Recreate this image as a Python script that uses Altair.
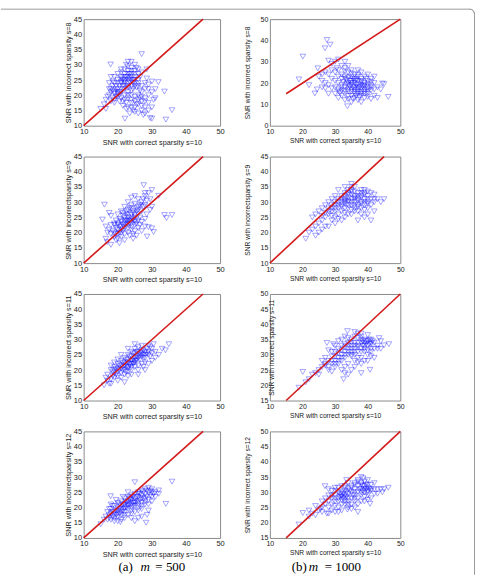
import altair as alt
import pandas as pd

# ---------------- data ----------------
X_TICKS = [10, 20, 30, 40, 50]
Y_TICKS_A = [10, 15, 20, 25, 30, 35, 40, 45]
Y_TICKS_R1 = [0, 10, 20, 30, 40, 50]
Y_TICKS_R34 = [15, 20, 25, 30, 35, 40, 45, 50]

X_TITLE = "SNR with correct sparsity s=10"

# (a) m = 500, s = 8
L1_POINTS = [
    (21,24),(22,25),(23,26),(24,27),(22,27),(23,28),(24,25),(25,26),(21,26),(22,23),
    (23,24),(24,23),(25,24),(26,25),(25,28),(24,29),(23,29.5),(22,28.5),(21,27.5),(20,25),
    (20.5,23),(21.5,22),(23,22.5),(24.5,22),(25.5,22.5),(26,27),(26.5,26),(27,27.5),(25,30),(24,31),
    (27,33.5),(28.5,28.5),(26,23),(22.5,30),(23.5,27),(21,24.5),
    (17.5,20),(18,21),(18.5,19),(19,20.5),(19.5,22),(18,22),(19,18.5),(20,19.5),(20,21),(20.5,20),
    (21,19),(19.5,19.5),(18.5,23),(17,19.5),(17.5,22),(16.5,18.5),(16,17),(15,15.5),(16.5,15.5),(17.9,30.1),
    (18,26),(19,24),(20,27),(18.5,24.5),(19,17.5),(20.5,18),
    (22,20),(23,19),(24,20),(25,19.5),(26,20),(27,21),(28,22),(29,20),(27,18),(26,17),
    (25,16),(28,16),(29,15),(27,15),(26,14),(28,14),(27.5,13.5),(30,16),(29,17.5),(31,19),
    (30,21),(29,22),(28,19),(26,18.5),(24,17.5),(23,16),(25,14.5),(29.5,12.5),(22.1,12.3),(22.5,15.5),
    (24.5,15),(30,12.3),(34.1,12),(35.9,15.1),(33.7,21.2),(31.9,24.3),(30,24.5),(28,24),(27,23),(23,21),
    (21.5,18),(22.5,17.5),(26.5,21.5),(24,18.5),(28.5,25.5),(30.5,18.5),(31,22),(27,19.5),(25.5,17),(23.5,14),
    (29,23.5),(22,24),(23,25),(24,26),(22.5,26),(21.5,25),(20,22),(21,21),(22,22),(23.5,24.5),
    (24.5,24),(25,25),(23,23),(19,21),(20,20.5),(18.5,21.5),
    (21,25.5),(22,26),(23,27),(24,28),(25,27),(22,24.5),(23.5,25.5),(24.5,25),(20.5,21),(21.5,23),
    (19.5,23),(24,21.5),(25,23),(26,24),(23,20),(22,18.5),(25,18),(26.5,19),(28,18),(24,16),
    (27,16.5),(20,24),(21,28.5),(26,28.5),(23,31),(25.5,29),(19,26),(17.5,24),(18,18),(21.5,16.5),
]

# (a) m = 500, s = 9
L2_POINTS = [
    (20,21),(21,22),(22,23),(23,24),(24,25),(21,23.5),(22,25),(23,26),(22,21.5),(23,22.5),
    (24,23),(25,24),(20,23),(21,20),(19,20),(19.5,21.5),(20.5,24.5),(22.5,27),(23.5,28),(24.5,27),
    (25,26),(24,21),(25,22.5),(26,24),(26,26),(25.5,28),(26.5,29),(27,30),(27.5,31),(28,32),
    (26,31),(25,29.5),(24,29),(27,27),(28,29),(28.5,30.5),(29,33),(28,33),(27.6,35.6),(30,34),
    (32,32.1),(29.5,31),(26.5,25),(27,23.5),(23,20),(22,19.5),(21,18.5),(20,18),(19,18.5),(18,19.5),
    (18.5,20.5),(17.5,21),(18,22.5),(19,23),(20,26),(21,27),(22,28.5),(23,30),(24,31.5),(25,32),
    (21.5,25.5),(23.5,23),(22.5,24),(24.5,26.5),(20.5,22),(19.5,24),(18,25.5),(17.5,26.5),(16.1,29.2),(15.5,24.3),
    (16.5,22),(17,20),(16.5,18),(16.9,16.9),(18,16),(19.5,17.5),(20.5,16.5),(21.5,20.5),(22,17.5),(23.5,19),
    (24.5,19.5),(25,20.5),(26,21.5),(28.6,18.7),(30,21.4),(30.5,20.2),(29,21.8),(28,22),(27,20.5),(33.7,25.8),
    (35.9,25.8),(34.3,24.8),(28.5,26),(29.5,27.5),(27.5,28.5),(26,27.5),(24,28),(23,27.5),(25.5,23),(24,24),
    (22,22),(21,21),(23,25),(26.5,22.5),(28,24.5),(30,28.5),(20,19.5),(19,22.5),(24.5,18),(25.5,19),
    (21.5,22.5),(22.5,23),(23.5,24),(24.5,24.5),(22,24),(23,23.5),(21,24),(20,22.5),(24,26),(25,25),
    (26,28.5),(27,29),(25.5,27),(22.5,26),(21.5,26.5),(20.5,20),(19.5,19.5),(23,21.5),(24,22),(25,23.5),
]

# (a) m = 500, s = 11
L3_POINTS = [
    (16,15),(17,16.5),(17.5,15.5),(18,17),(18.5,18),(19,17.5),(19,19),(19.5,18.5),(20,18),(20,19.5),
    (20.5,20),(21,19),(21,20.5),(21.5,21),(22,20),(22,21.5),(22.5,22),(23,21),(23,22.5),(23.5,21.5),
    (24,22),(24,23),(24.5,23.5),(25,22.5),(25,24),(25.5,23),(26,24),(26,25),(26.5,23.5),(27,24.5),
    (27,25.5),(27.5,25),(28,24),(28,26),(28.5,25.5),(29,26),(29.5,24.5),(30,25.5),(30,27),(31,26),
    (20,22),(21,23),(22,24),(23,25),(24,26),(25,27),(26,27.5),(19,21),(18,20),(17,18.5),
    (22,18.5),(23,19.5),(24,20),(25,21),(26,21.5),(27,22),(28,22.5),(24,18.5),(26,20),(27.5,21),
    (21.5,22.5),(22.5,23.5),(23.5,24.5),(24.5,25.5),(25.5,26),(20.5,21.5),(19.5,20.5),(18.5,19.5),(21,17.5),(23,18),
    (29,28),(27,28),(25,28.5),(33,27),(35,28.5),(34,26.5),(31,24),(30,23),(29,22),(32,25),
    (28,20),(26,18.5),(22,16),(20,16.5),(18,15.5),(16.5,17.5),(19,22.5),(18,21.5),(24,21),(25.5,24.5),
    (26.5,25.5),(27.5,26.5),(28.5,27),(29.5,27.5),(23,27),(21,25),(30.5,28.5),(24.5,22),(22.5,19.5),(20,23.5),
    (21.5,20),(22.5,21),(23.5,22),(24.5,22.5),(25.5,23.5),(26.5,24.5),(27.5,24),(22,22.5),(23,23.5),(24,24.5),
    (25,25.5),(26,26),(21,21.5),(20,20.5),(19,20),(27,26.5),(28,25),(29,25),(25,23),(23,20.5),
]

# (a) m = 500, s = 12
L4_POINTS = [
    (25,28.3),(35.9,28.5),(32,25.6),(34.1,21.2),(28.6,17.6),(28.3,15),(20.8,15.2),(25,15.5),(26,16.5),(17.9,23.7),
    (15,14.5),(16,16),(16.5,17),(17,16),(17.5,17.5),(18,18),(18.5,17),(19,18.5),(19.5,19),(20,18),
    (20,20),(20.5,19.5),(21,20.5),(21.5,19),(22,21),(22.5,20),(23,22),(23.5,21),(24,22.5),(24.5,21.5),
    (25,23),(25.5,22),(26,23.5),(26.5,22.5),(27,24),(27.5,23),(28,24.5),(28.5,23.5),(29,25),(29.5,24),
    (30,25),(29,22.5),(28,22),(27,21.5),(26,21),(25,20.5),(24,20),(23,19.5),(22,18.5),(21,17.5),
    (20,17),(19,16.5),(18,16),(17,18.5),(18,19.5),(19,20.5),(20,21.5),(21,22),(22,23),(23,23.5),
    (24,24),(25,24.5),(26,25),(27,25.5),(28,26),(29,26.5),(30,26),(31,25),(30,23.5),(29,21),
    (27,19.5),(26,19),(25,18.5),(24,18),(23,17.5),(22,16.5),(21,16),(19,15.5),(18,21),(19.5,22.5),
    (21.5,23.5),(23,25),(24,23),(22,19.5),(20.5,18),(17.5,19.5),(18.5,20.5),(22.5,22),(23.5,22.5),(24.5,23.5),
    (25.5,23.5),(26.5,24.5),(27.5,25),(28.5,25.5),(29.5,25.5),(30.5,24.5),(26,20),(27,20.5),(28,21),(24,19),
    (23,20.5),(21,18.5),(19.5,17.5),(20,15.5),(30,22),(31,23.5),(32,24.5),(27,17),(29,19),(24,16.5),
    (21,19.5),(22,20),(23,21),(24,21),(25,22),(26,22),(27,23),(28,23),(20,19),(19,17.5),
    (21.5,21),(22.5,21.5),(23.5,23),(25,21.5),(26,24.5),(18.5,18.5),(17.5,16.5),(20.5,21),(24.5,20.5),(22,17.5),
]

# (b) m = 1000, s = 8
R1_POINTS = [
    (27.5,40.2),(28.5,38),(26.9,36.3),(20.1,32.4),(18.9,21.7),(24.7,26.9),(23.8,15.1),(46.3,13.5),(44.5,19.8),(33.8,9.1),
    (31,31),(30,30),(29,29),(28,30.5),(27,25),(26,24),(28,24),(29,22),(27,20),(28,19),
    (29,17.5),(30,18),(30,21),(31,23),(31,26),(32,28),(33,30),(33,27),(34,25),(32,24),
    (33,22),(34,20),(35,19),(36,18),(37,17),(38,16),(39,17),(40,18),(41,19),(42,20),
    (36,20),(37,21),(38,19),(39,20),(40,21),(35,17),(34,16),(33,15),(32,14),(31,13),
    (33,18),(32,19),(31,17),(30,15),(35,14),(36,13),(37,12),(38,11),(35,11),(34,12.5),
    (36,16),(37,15),(38,14),(39,15),(40,16),(41,16.5),(42,17),(39,13),(40,13.5),(41,12.5),
    (36,22),(37,23),(38,22),(39,23),(40,24),(38,25),(37,26),(36,24),(35,23),(34,22.5),
    (41,22),(42,23),(43,18),(44,17),(42,14),(43,13),(45,19.5),(36.5,19),(37.5,18),(38.5,18.5),
    (35.5,18),(34.5,18.5),(33.5,19.5),(32.5,20.5),(35,21),(36,15),(37,19.5),(38,20.5),(39,18.5),(40,19.5),
    (33,25.5),(35,26),(34,28),(30,25),(29,26),(26,21),(25,23),(27,17.5),(30.5,27),(32,16.5),
    (34,14),(31.5,15.5),(28,15),(26,18),(24.5,17),(22,19),(31,20),(33,12),(39.5,22),(41,20.5),
    (34,19),(35,20),(36,21),(37,18),(38,17.5),(39,16),(36,17),(35,16),(34,17),(33,16.5),
    (37,16),(38,15),(39,19),(40,17),(36.5,21.5),(35.5,22),(34.5,21),(33.5,21.5),(32,22),(33,23),
    (37.5,13.5),(36.5,14),(35.5,12.5),(40,15),(41,18),(38,21),(37,24),(35,24.5),(32,18),(31,16),
]

# (b) m = 1000, s = 9
R2_POINTS = [
    (21,18),(22,20),(23,21),(24,22),(25,23),(26,24),(27,25),(28,26),(29,27),(30,28),
    (28,28),(29,29),(30,30),(31,31),(32,32),(33,33),(34,34),(35,35),(33,31),(34,30),
    (35,31),(36,32),(37,33),(38,34),(39,33),(40,32),(41,33),(42,31),(36,30),(37,29),
    (38,30),(39,31),(40,30),(35,29),(34,28),(33,28),(32,27),(31,26),(30,25),(29,24),
    (31,29),(32,30),(33,29.5),(34,31.5),(35,32.5),(36,33.5),(37,31),(38,32),(39,29),(40,28),
    (41,29),(42,30),(43,31),(44,30),(45,31),(36,27),(37,27),(38,26),(35,26),(33,25),
    (32,24),(30,23),(28,22),(27,22),(26,21),(25,20),(24,19),(36,35),(35,36),(33,35),
    (31,34),(30,32),(29,31),(28,30),(27,29),(26,28),(25,27),(24,26),(23,25),(32,28.5),
    (34,29),(36,31),(38,28),(40,26),(42,27),(41,24),(39,25),(37,24),(31,28),(30,27),
    (29,25.5),(34,32.5),(35,33.5),(36,29),(37,30.5),(33,30.5),(32,31),(38,31.5),(39,32.5),(40,31),
    (33,30),(34,30.5),(35,30),(36,31.5),(37,32),(38,33),(39,34),(35,34),(34,33),(33,32),
    (32,29),(31,30),(36,28),(37,28.5),(38,29.5),(39,30),(40,29.5),(41,31),(42,32.5),(40,33.5),
    (30,29),(29,28),(28,27),(27,26.5),(26,25.5),(33,26.5),(35,27.5),(34,26),(31,24.5),(39,27.5),
]

# (b) m = 1000, s = 11
R3_POINTS = [
    (45,33.1),(46.5,33.5),(44,34.5),(43.5,35.5),(38,37),(40,36.5),(33.8,37.8),(27.5,33.9),(29.5,33.5),(20.1,24.4),
    (18.9,19.2),(32.6,22),(33,24),(40.7,25.1),(38,27),(25,23.5),
    (39,34),(40,34.5),(41,34),(40,33),(39.5,33.5),(41,33.5),(40.5,35),(38.5,33),(39,35),(41.5,34.5),
    (38,34),(37,33),(36,34),(35,33),(34,32),(33,31),(32,30),(31,29),(30,28),(29,27),
    (28,26),(27,27),(26,26),(25,25),(24,24),(23,23.5),(22,22),(21,21),(28,28),(29,29.5),
    (30,31),(31,32),(32,33),(33,33.5),(34,34),(35,35),(36,36),(37,35.5),(38,36),(31,30.5),
    (32,28),(33,29),(34,30),(35,31),(36,32),(37,31),(38,32),(39,31),(40,30),(41,31),
    (42,32),(43,33),(37,29),(36,28),(35,29.5),(34,27),(33,26),(32,25),(31,27),(30,26),
    (29,24.5),(28,25),(34,35.5),(35,34),(36,30),(37,27.5),(38,29),(39,28),(40,28),(41,29.5),
    (42,34),(43,32),(37,37),(36,37.5),(33,36),(32,35),(31,34.5),(30,33),(29,31),(28,31.5),
    (27,29),(26,28),(35,25),(36,26),(34,23.5),(38,24),(42,29),(44,32),(30,29.5),(32,31.5),
    (33,32.5),(34,33),(35,32),(36,33),(37,34),(38,35),(39,32),(40,31.5),(41,32),(27,26.5),
    (39.5,34.5),(40.5,33.5),(38.5,34.5),(41,35),(39,33),(33,30),(34,31),(35,30),(32,29),(31,28),
    (36,31),(37,32.5),(38,31),(30,27),(29,28),
]

# (b) m = 1000, s = 12
R4_POINTS = [
    (46.3,31.5),(44.5,30),(43,29.5),(40.7,26.2),(18.9,19.4),(20.1,23.2),(26,23.5),(25.5,24.5),(27.5,23),(33.8,24.3),
    (37,23.5),(30,23.5),(26.9,32),(30,31.5),(33.5,34),(38.6,34.6),(40,34),
    (32,29),(33,29),(34,29.5),(32.5,28),(33.5,28.5),(31,28),(32,30),(33,30.5),(34,28),(31.5,29.5),
    (38,31),(39,31),(40,31.5),(39,30),(40,30),(41,31),(38.5,32),(39.5,32.5),(40,29),(41,30.5),
    (28,27),(29,28),(30,29),(31,30),(30,27),(29,26),(28,25),(27,26),(26,25),(25,24),
    (24,25.5),(23,23),(22,24),(35,30),(36,31),(37,32),(36,29),(35,28),(34,27),(37,30),
    (38,29),(37,28),(36,27),(35,26),(34,26),(33,27),(32,26),(31,25),(30,25.5),(29,24),
    (35,32),(34,33),(33,32),(32,32),(31,31.5),(30,30.5),(29,30.5),(28,29),(36,33),(37,33.5),
    (38,33),(39,33.5),(41,32.5),(42,31),(42,29.5),(43,31),(44,31),(45,31),(41,28),(40,27.5),
    (39,27),(38,27),(37,26),(36,25),(35,24.5),(32,24),(31,23.5),(28,23),(38,35),(37,34),
    (34,31),(33,31.5),(35,31.5),(36,30),(39,28.5),(31,27),(30,28),(29,29),(27,28),(28,31),
    (33,26),(34,25),(42,33),(40,32.5),(26,27),(24,22.5),(22,22),(38,30),(36,32.5),(32,27.5),
    (32.5,29.5),(33.5,30),(31.5,28.5),(39.5,31),(38.5,30.5),(40.5,31),(39,32),(37.5,31),(34.5,30.5),(35.5,29),
    (33,28),(32,28.5),(40,30.5),(38,32.5),(36,28),
]

# reference line y = x, endpoints per panel
LINE_A = [10, 45]
LINE_B = [15, 50]

CAPTION_A = ["(a)", "m", "= 500"]
CAPTION_B = ["(b)", "m", "= 1000"]

# ---------------- styling helpers ----------------
SANS = "Liberation Sans"
SERIF = "Liberation Serif"
TXT = "#1a1a1a"
H = 107
W_LEFT, W_RIGHT = 137, 131


def one_row():
    return alt.Data(values=[{"k": 0}])


def panel(points, ydom, yticks, line, ytitle, width, title_x, fs_lab, fs_tit, extra=()):
    df = pd.DataFrame(points, columns=["x", "y"])
    xs = alt.Scale(domain=[10, 50], nice=False, zero=False)
    ys = alt.Scale(domain=ydom, nice=False, zero=False)
    xax = alt.Axis(values=X_TICKS, title=X_TITLE, ticks=False, domain=False, grid=False,
                   labelFont=SANS, labelFontSize=fs_lab, labelColor=TXT, labelPadding=2,
                   titleFont=SANS, titleFontSize=fs_tit, titleFontWeight="normal",
                   titleColor=TXT, titlePadding=3, labelFlush=False)
    yax = alt.Axis(values=yticks, title=ytitle, ticks=False, domain=False, grid=False,
                   labelFont=SANS, labelFontSize=fs_lab, labelColor=TXT, labelPadding=2,
                   titleFont=SANS, titleFontSize=fs_tit, titleFontWeight="normal",
                   titleColor=TXT, titleX=title_x, labelFlush=False)
    pts = alt.Chart(df).mark_point(
        shape="triangle-down", size=32, filled=False, stroke="#0000ff",
        strokeWidth=0.8, strokeOpacity=0.62,
    ).encode(x=alt.X("x:Q", scale=xs, axis=xax), y=alt.Y("y:Q", scale=ys, axis=yax))
    ldf = pd.DataFrame({"x": line, "y": line})
    ln = alt.Chart(ldf).mark_line(color="#d41a1a", strokeWidth=1.6).encode(
        x=alt.X("x:Q", scale=xs, axis=xax), y=alt.Y("y:Q", scale=ys, axis=yax))
    return alt.layer(pts, ln, *extra).properties(width=width, height=H)


def caption(parts, xs_rel):
    out = []
    for txt, xr in zip(parts, xs_rel):
        style = "italic" if txt == "m" else "normal"
        out.append(alt.Chart(one_row()).mark_text(
            text=txt, font=SERIF, fontSize=13, fontStyle=style, align="left",
            baseline="alphabetic", color="black").encode(x=alt.value(xr), y=alt.value(140)))
    return out


FRAME = "#9a9a9a"
frame = [
    alt.Chart(one_row()).mark_rule(color=FRAME, strokeWidth=1).encode(
        x=alt.value(-83), x2=alt.value(387.5), y=alt.value(-10)),
    alt.Chart(one_row()).mark_rule(color=FRAME, strokeWidth=1).encode(
        x=alt.value(392.5), y=alt.value(-5), y2=alt.value(558)),
    alt.Chart(one_row()).mark_arc(theta=0, theta2=1.5708, radius=5, radius2=5,
                                  stroke=FRAME, strokeWidth=1, fillOpacity=0).encode(
        x=alt.value(387.5), y=alt.value(-5)),
]

l1 = panel(L1_POINTS, [10, 45], Y_TICKS_A, LINE_A, "SNR with incorrect sparsity s=8",
           W_LEFT, -11, 7.5, 7.3, extra=frame)
r1 = panel(R1_POINTS, [0, 50], Y_TICKS_R1, LINE_B, "SNR with incorrect sparsity s=8",
           W_RIGHT, -19, 7, 6.7)
l2 = panel(L2_POINTS, [10, 45], Y_TICKS_A, LINE_A, "SNR with incorrectsparsity s=9",
           W_LEFT, -11, 7.5, 7.3)
r2 = panel(R2_POINTS, [10, 45], Y_TICKS_A, LINE_A, "SNR with incorrectsparsity s=9",
           W_RIGHT, -19, 7, 6.7)
l3 = panel(L3_POINTS, [10, 45], Y_TICKS_A, LINE_A, "SNR with incorrect sparsity s=11",
           W_LEFT, -11, 7.5, 7.3)
r3 = panel(R3_POINTS, [15, 50], Y_TICKS_R34, LINE_B, "SNR with incorrect sparsity s=11",
           W_RIGHT, 5, 7, 6.7)
l4 = panel(L4_POINTS, [10, 45], Y_TICKS_A, LINE_A, "SNR with incorrectsparsity s=12",
           W_LEFT, -11, 7.5, 7.3, extra=caption(CAPTION_A, [35, 57, 72]))
r4 = panel(R4_POINTS, [15, 50], Y_TICKS_R34, LINE_B, "SNR with incorrect sparsity s=12",
           W_RIGHT, -19, 7, 6.7, extra=caption(CAPTION_B, [22, 39, 55]))

chart = alt.concat(l1, r1, l2, r2, l3, r3, l4, r4, columns=2).properties(
    spacing={"row": 31, "column": 50},
    bounds="flush",
    align="each",
    padding={"left": 0, "top": 5, "right": 0, "bottom": 0},
    background="white",
).configure_view(stroke="#8a8a8a", strokeWidth=1)

chart.save("out.html", embed_options={"renderer": "svg", "actions": False})
